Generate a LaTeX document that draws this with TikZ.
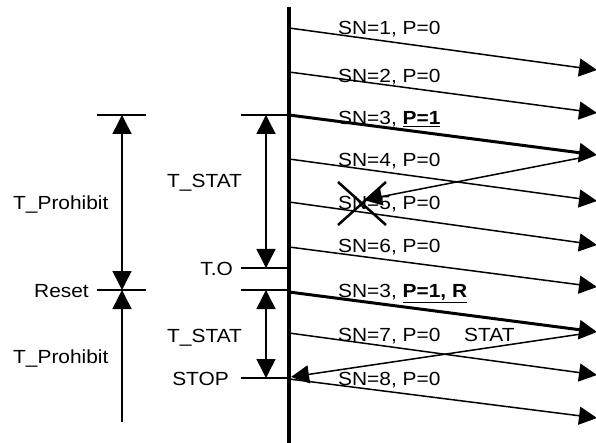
\documentclass[tikz,border=0pt]{standalone}
\usepackage{fontspec}
\setmainfont{Liberation Sans}[FakeStretch=1.1]
\usetikzlibrary{arrows.meta}
\begin{document}
\begin{tikzpicture}[x=1pt,y=-1pt,font=\fontsize{19}{22}\selectfont,
  msg/.style={line width=1.5pt,-{Triangle[length=18pt,width=18pt]}},
  msgthick/.style={line width=3pt,-{Triangle[length=18pt,width=19pt]}},
  tick/.style={line width=1.5pt},
  dimarr/.style={line width=1.5pt,{Triangle[length=19pt,width=19pt]}-{Triangle[length=19pt,width=19pt]}},
  uparr/.style={line width=1.5pt,{Triangle[length=19pt,width=19pt]}-},
  lbl/.style={anchor=base west,inner sep=0pt},
  rlbl/.style={anchor=base east,inner sep=0pt},
  cross/.style={line width=2.5pt}]
\useasboundingbox (0,0) rectangle (596,443);
% time line
\coordinate (bt) at (289,7);
\coordinate (bb) at (289,443);
\draw[line width=3.5pt] (bt) -- (bb);
% message end points
\coordinate (s1) at (289,28);  \coordinate (e1) at (597,70);
\coordinate (s2) at (289,72);  \coordinate (e2) at (597,113);
\coordinate (s3) at (289,115); \coordinate (e3) at (597,155);
\coordinate (s4) at (289,159); \coordinate (e4) at (597,201);
\coordinate (s5) at (289,202); \coordinate (e5) at (597,245);
\coordinate (s6) at (289,247); \coordinate (e6) at (597,287);
\coordinate (s7) at (289,292); \coordinate (e7) at (597,332);
\coordinate (s8) at (289,333); \coordinate (e8) at (597,375);
\coordinate (s9) at (289,379); \coordinate (e9) at (597,418);
\coordinate (rs1) at (590,156); \coordinate (re1) at (364,200);
\coordinate (rs2) at (588,333); \coordinate (re2) at (291,377);
\draw[msg] (s1) -- (e1);
\draw[msg] (s2) -- (e2);
\draw[msgthick] (s3) -- (e3);
\draw[msg] (s4) -- (e4);
\draw[msg] (s5) -- (e5);
\draw[msg] (s6) -- (e6);
\draw[msgthick] (s7) -- (e7);
\draw[msg] (s8) -- (e8);
\draw[msg] (s9) -- (e9);
\draw[msg] (rs1) -- (re1);
\draw[msg] (rs2) -- (re2);
% lost message cross
\coordinate (x1) at (338,182); \coordinate (x2) at (386,225);
\coordinate (x3) at (338,225); \coordinate (x4) at (386,182);
\draw[cross] (x1) -- (x2);
\draw[cross] (x3) -- (x4);
% message labels
\node[lbl] (l1) at (338,35) {SN=1, P=0};
\node[lbl] (l2) at (338,83) {SN=2, P=0};
\node[lbl] (l3) at (338,125) {SN=3, \underline{\textbf{P=1}}};
\node[lbl] (l4) at (338,167) {SN=4, P=0};
\node[lbl] (l5) at (338,210) {SN=5, P=0};
\node[lbl] (l6) at (338,253) {SN=6, P=0};
\node[lbl] (l7) at (338,298) {SN=3, \underline{\textbf{P=1, R}}};
\node[lbl] (l8) at (338,341) {SN=7, P=0};
\node[lbl] (l8s) at (464,341) {STAT};
\node[lbl] (l9) at (338,385) {SN=8, P=0};
% left ticks
\coordinate (pt1) at (97,115);  \coordinate (pt2) at (146,115);
\coordinate (rt1) at (97,290);  \coordinate (rt2) at (146,290);
\coordinate (st1) at (241,115); \coordinate (st2) at (289,115);
\coordinate (to1) at (241,268); \coordinate (to2) at (289,268);
\coordinate (su1) at (241,290); \coordinate (su2) at (289,290);
\coordinate (sp1) at (241,378); \coordinate (sp2) at (289,378);
\draw[tick] (pt1) -- (pt2);
\draw[tick] (rt1) -- (rt2);
\draw[tick] (st1) -- (st2);
\draw[tick] (to1) -- (to2);
\draw[tick] (su1) -- (su2);
\draw[tick] (sp1) -- (sp2);
% dimension arrows
\coordinate (pa) at (122,115); \coordinate (pb) at (122,290);
\coordinate (pc) at (122,422);
\coordinate (ta) at (266,115); \coordinate (tb) at (266,268);
\coordinate (tc) at (266,290); \coordinate (td) at (266,378);
\draw[dimarr] (pa) -- (pb);
\draw[uparr] (pb) -- (pc);
\draw[dimarr] (ta) -- (tb);
\draw[dimarr] (tc) -- (td);
% left labels
\node[lbl] (tp1) at (13,210) {T\_Prohibit};
\node[lbl] (tp2) at (13,363) {T\_Prohibit};
\node[lbl] (ts1) at (167,188) {T\_STAT};
\node[lbl] (ts2) at (167,342) {T\_STAT};
\node[rlbl] (to) at (233,276) {T.O};
\node[rlbl] (rs) at (89,298) {Reset};
\node[rlbl] (sp) at (229,385) {STOP};
\end{tikzpicture}
\end{document}
